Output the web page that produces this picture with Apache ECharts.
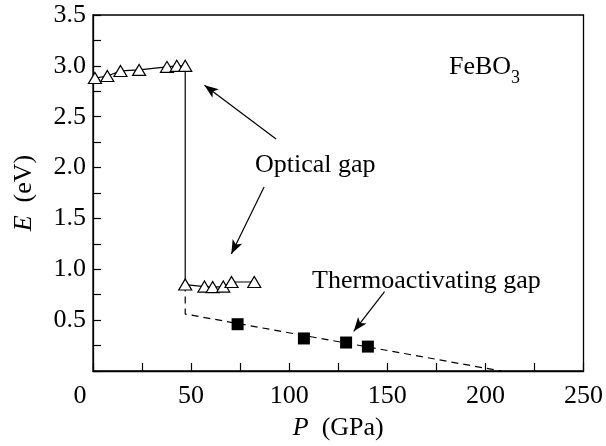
<!DOCTYPE html>
<html>
<head>
<meta charset="UTF-8">
<title>FeBO3 gap</title>
<script src="https://cdn.jsdelivr.net/npm/echarts@6/dist/echarts.min.js"></script>
<style>
  html, body { margin: 0; padding: 0; background: #fff; }
  #main { width: 606px; height: 446px; }
</style>
</head>
<body>
<div id="main"></div>
<script>
// optical gap (open triangles), connected in order incl. the drop at 47 GPa
var opticalP = [1, 7.3, 14, 23.5, 37.7, 42.7, 47, 47, 56.8, 61, 66.4, 70.6, 82.2];
var opticalE = [2.88, 2.90, 2.95, 2.96, 2.99, 3.00, 3.00, 0.85, 0.83, 0.825, 0.83, 0.875, 0.875];
// thermoactivating gap (filled squares)
var thermoP = [73.7, 107.5, 129, 140.1];
var thermoE = [0.46, 0.32, 0.28, 0.24];
// dashed guide line
var fitP = [47, 47, 208];
var fitE = [0.85, 0.56, 0];
// arrows [fromP, fromE, toP, toE]
var arrows = [
  [93.3, 2.28, 56.8, 2.81],
  [87.2, 1.81, 70.5, 1.15],
  [148.6, 0.78, 132.9, 0.39]
];

function pairs(xs, ys) {
  return xs.map(function (x, i) { return [x, ys[i]]; });
}

var FONT = 'Liberation Serif';
var chart = echarts.init(document.getElementById('main'));

chart.setOption({
  animation: false,
  backgroundColor: '#fff',
  grid: { left: 93, top: 15, right: 20, bottom: 69, show: true, borderColor: '#000', borderWidth: 1.3 },
  xAxis: {
    type: 'value', min: 0, max: 250, interval: 25,
    name: '{i|P}  (GPa)', nameLocation: 'middle', nameGap: 44,
    nameTextStyle: {
      fontFamily: FONT, fontSize: 26, color: '#000',
      rich: { i: { fontFamily: FONT, fontSize: 26, fontStyle: 'italic', color: '#000' } }
    },
    axisLine: { lineStyle: { color: '#000', width: 1.3 } },
    axisTick: { inside: true, length: 8, lineStyle: { color: '#000', width: 1.2 } },
    splitLine: { show: false },
    axisLabel: {
      fontFamily: FONT, fontSize: 26, color: '#000', margin: 12,
      formatter: function (v) {
        if (v % 50 !== 0) return '';
        return v === 0 ? '{z|0}' : String(v);
      },
      rich: { z: { fontFamily: FONT, fontSize: 26, color: '#000', padding: [0, 26, 0, 0] } }
    }
  },
  yAxis: {
    type: 'value', min: 0, max: 3.5, interval: 0.25,
    name: '{i|E}  (eV)', nameLocation: 'middle', nameGap: 56,
    nameTextStyle: {
      fontFamily: FONT, fontSize: 26, color: '#000',
      rich: { i: { fontFamily: FONT, fontSize: 26, fontStyle: 'italic', color: '#000' } }
    },
    axisLine: { lineStyle: { color: '#000', width: 1.3 } },
    axisTick: { inside: true, length: 8, lineStyle: { color: '#000', width: 1.2 } },
    splitLine: { show: false },
    axisLabel: {
      fontFamily: FONT, fontSize: 26, color: '#000', margin: 7,
      formatter: function (v) {
        var r = Math.round(v * 100);
        if (r === 0 || r % 50 !== 0) return '';
        return v.toFixed(1);
      }
    }
  },
  series: [
    {
      name: 'fit', type: 'line', data: pairs(fitP, fitE),
      showSymbol: false, symbol: 'none', z: 1,
      lineStyle: { color: '#000', width: 1.2, type: [7, 5] }
    },
    {
      name: 'Optical gap', type: 'line', data: pairs(opticalP, opticalE),
      symbol: 'triangle', symbolSize: [13, 11], z: 3,
      lineStyle: { color: '#000', width: 1.2 },
      itemStyle: { color: '#fff', borderColor: '#000', borderWidth: 1.2 }
    },
    {
      name: 'Thermoactivating gap', type: 'scatter', data: pairs(thermoP, thermoE),
      symbol: 'rect', symbolSize: 12, z: 3,
      itemStyle: { color: '#000', opacity: 1 },
      markLine: {
        silent: true, symbol: ['none', 'arrow'], symbolSize: [8, 14],
        label: { show: false },
        lineStyle: { color: '#000', width: 1.2, type: 'solid', opacity: 1 },
        data: arrows.map(function (a) {
          return [{ coord: [a[0], a[1]] }, { coord: [a[2], a[3]] }];
        })
      }
    }
  ],
  graphic: [
    { type: 'text', left: 449, top: 54, style: { text: 'FeBO', font: '26px "Liberation Serif"', fill: '#000' } },
    { type: 'text', left: 511, top: 69, style: { text: '3', font: '18px "Liberation Serif"', fill: '#000' } },
    { type: 'text', left: 255, top: 152, style: { text: 'Optical gap', font: '26px "Liberation Serif"', fill: '#000' } },
    { type: 'text', left: 312, top: 268, style: { text: 'Thermoactivating gap', font: '26px "Liberation Serif"', fill: '#000' } }
  ]
});
</script>
</body>
</html>
